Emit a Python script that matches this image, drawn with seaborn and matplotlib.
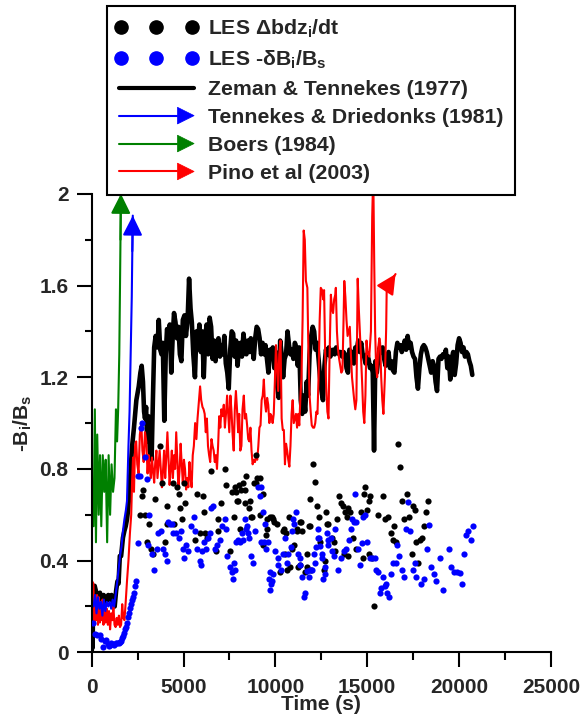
import matplotlib
matplotlib.use("Agg")
import matplotlib.pyplot as plt
import seaborn as sns
from matplotlib.lines import Line2D
from matplotlib.patches import Polygon
from matplotlib.legend_handler import HandlerBase, HandlerLine2D
from matplotlib.ticker import MultipleLocator, FuncFormatter

# ---------------- data ----------------
# Zeman & Tennekes (1977)
zeman_t = [0, 30, 50, 80, 160, 250, 350, 450, 550, 650, 710, 800, 900, 1000, 1080, 1160, 1250,
           1330, 1400, 1460, 1530, 1600, 1700, 1780, 1850, 1920, 1980, 2050, 2120, 2200, 2300,
           2430, 2560, 2650, 2720, 2790, 2850, 2900, 2960, 3020, 3090, 3160, 3260, 3330, 3400,
           3480, 3580, 3650, 3730, 3800, 3870, 3950, 4030, 4100, 4170, 4250, 4330, 4400, 4480,
           4560, 4640, 4720, 4800, 4880, 4960, 5050, 5130, 5220, 5300, 5380, 5450, 5530, 5620,
           5700, 5780, 5860, 5940, 6020, 6100, 6180, 6260, 6340, 6420, 6500, 6580, 6660, 6740,
           6820, 6900, 6980, 7060, 7140, 7220, 7300, 7380, 7460, 7540, 7620, 7700, 7780, 7860,
           7940, 8020, 8100, 8180, 8260, 8340, 8420, 8500, 8580, 8660, 8740, 8820, 8900, 8980,
           9060, 9140, 9220, 9300, 9380, 9460, 9540, 9620, 9700, 9780, 9860, 9940, 10020, 10100,
           10180, 10260, 10340, 10420, 10500, 10580, 10660, 10740, 10820, 10900, 10980, 11060,
           11140, 11220, 11300, 11380, 11460, 11540, 11620, 11700, 11780, 11860, 11950, 12030,
           12110, 12190, 12270, 12350, 12430, 12510, 12590, 12670, 12750, 12830, 12910, 12990,
           13070, 13150, 13230, 13310, 13390, 13470, 13550, 13630, 13710, 13790, 13870, 13950,
           14030, 14110, 14190, 14270, 14350, 14430, 14510, 14590, 14670, 14750, 14830, 14910,
           14990, 15070, 15150, 15230, 15300, 15370, 15440, 15520, 15600, 15680, 15760, 15840,
           15920, 16000, 16080, 16160, 16240, 16320, 16400, 16480, 16560, 16640, 16720, 16800,
           16880, 16960, 17040, 17120, 17200, 17280, 17360, 17440, 17520, 17600, 17680, 17760,
           17840, 17920, 18000, 18080, 18160, 18240, 18320, 18400, 18480, 18560, 18640, 18720,
           18800, 18880, 18960, 19040, 19120, 19200, 19280, 19360, 19440, 19520, 19600, 19680,
           19760, 19840, 19920, 20000, 20080, 20160, 20240, 20320, 20400, 20480, 20560, 20640,
           20720]
zeman_r = [0.00, 0.15, 0.02, 0.28, 0.29, 0.26, 0.24, 0.26, 0.22, 0.25, 0.24, 0.22, 0.25, 0.23, 0.25,
           0.22, 0.20, 0.27, 0.31, 0.30, 0.42, 0.42, 0.50, 0.53, 0.55, 0.58, 0.62, 0.70, 0.80, 0.90,
           0.98, 1.10, 1.16, 1.22, 1.25, 1.18, 1.05, 1.02, 1.07, 0.92, 1.03, 0.88, 0.84, 1.10, 1.33,
           1.38, 1.33, 1.45, 1.32, 1.30, 1.35, 1.01, 1.30, 1.41, 1.39, 1.43, 1.22, 1.36, 1.48,
           1.44, 1.37, 1.42, 1.30, 1.27, 1.45, 1.47, 1.38, 1.45, 1.63, 1.50, 1.44, 1.30, 1.20,
           1.40, 1.33, 1.43, 1.31, 1.40, 1.20, 1.38, 1.43, 1.30, 1.46, 1.42, 1.28, 1.36, 1.27,
           1.35, 1.37, 1.29, 1.34, 1.30, 1.38, 1.26, 1.22, 1.15, 1.32, 1.40, 1.39, 1.29, 1.36,
           1.25, 1.33, 1.35, 1.29, 1.39, 1.33, 1.30, 1.36, 1.31, 1.37, 1.33, 1.28, 1.37, 1.42,
           1.41, 1.37, 1.30, 1.35, 1.30, 1.34, 1.28, 1.22, 1.32, 1.30, 1.33, 1.24, 1.31, 1.16,
           1.11, 1.36, 1.30, 1.20, 1.28, 1.30, 1.40, 1.34, 1.30, 1.32, 1.28, 1.35,
           1.33, 1.25, 1.33, 1.10, 1.04, 1.12, 1.05, 1.18, 1.12, 1.30, 1.38, 1.42,
           1.40, 1.32, 1.35, 1.28, 1.20, 1.14, 1.10, 1.25, 1.32, 1.30, 1.33, 1.29,
           1.31, 1.32, 1.30, 1.33, 1.31, 1.30, 1.31, 1.29, 1.31, 1.30, 1.24, 1.22,
           1.32, 1.30, 1.31, 1.26, 1.33, 1.32, 1.36, 1.31, 1.35, 1.30, 1.29, 1.26,
           1.30, 1.28, 1.24, 1.25, 1.22, 0.88, 1.27, 1.22, 1.28, 1.33, 1.31, 1.33,
           1.28, 1.25, 1.29, 1.31, 1.24, 1.27, 1.23, 1.22, 1.31, 1.35, 1.33, 1.34,
           1.31, 1.33, 1.36, 1.32, 1.38, 1.33, 1.35, 1.31, 1.29, 1.28, 1.20, 1.15,
           1.24, 1.30, 1.33, 1.34, 1.33, 1.31, 1.28, 1.25, 1.22, 1.27, 1.25, 1.18,
           1.14, 1.28, 1.29, 1.28, 1.30, 1.29, 1.32, 1.24, 1.29, 1.19, 1.28, 1.31,
           1.21, 1.26, 1.34, 1.37, 1.35, 1.31, 1.33, 1.29, 1.31, 1.30, 1.27, 1.25,
           1.21]

# Tennekes & Driedonks (1981)
td_t = [100, 180, 260, 340, 420, 500, 580, 660, 740, 820, 900, 980, 1060, 1140, 1220, 1300,
        1380, 1460, 1540, 1620, 1700, 1780, 1860, 1920, 1960, 2000, 2060, 2120, 2180, 2210, 2236]
td_r = [0.20, 0.25, 0.17, 0.24, 0.19, 0.22, 0.16, 0.23, 0.18, 0.22, 0.20, 0.22, 0.19, 0.23, 0.20, 0.25,
        0.30, 0.36, 0.42, 0.46, 0.53, 0.58, 0.62, 0.66, 0.78, 0.90, 1.05, 1.30, 1.55, 1.75, 1.905]

# Boers (1984)
boers_t = [100, 170, 230, 300, 380, 450, 520, 600, 680, 760, 840, 920, 1000, 1080, 1160, 1240,
           1320, 1380, 1440, 1500, 1540, 1565, 1590]
boers_r = [0.55, 1.06, 0.48, 0.95, 0.60, 0.86, 0.55, 0.86, 0.70, 0.84, 0.48, 0.86, 0.60, 0.82, 0.70, 0.76,
           1.06, 0.92, 1.06, 1.30, 1.60, 1.80, 2.00]

# Pino et al (2003)
pino_t = [20, 90, 140, 190, 240, 290, 340, 390, 440, 490, 540, 590, 640, 700, 760, 820, 880, 940,
          1000, 1060, 1120, 1180, 1240, 1300, 1360, 1420, 1480, 1540, 1600, 1660, 1720, 1780, 1850,
          1920, 2000, 2080, 2150, 2200, 2250, 2300, 2360, 2420, 2480, 2550, 2620, 2700, 2760, 2830,
          2900, 2970, 3040, 3100, 3160, 3220, 3280, 3340, 3400, 3460, 3520, 3580, 3640, 3700, 3760,
          3820, 3880, 3940, 4000, 4060, 4120, 4180, 4240, 4300, 4360, 4420, 4480, 4540, 4600, 4660,
          4720, 4780, 4840, 4900, 4960, 5020, 5080, 5140, 5200, 5260, 5320, 5380, 5440, 5500, 5560,
          5630, 5700, 5760, 5820, 5900, 5960, 6030, 6090, 6150, 6210, 6270, 6330, 6390, 6450, 6520,
          6580, 6640, 6700, 6760, 6820, 6880, 6940, 7000, 7060, 7120, 7190, 7250, 7310, 7370, 7430,
          7490, 7550, 7610, 7670, 7730, 7790, 7850, 7910, 7970, 8030, 8090, 8150, 8210, 8280, 8340,
          8400, 8460, 8520, 8580, 8640, 8700, 8760, 8830, 8890, 8950, 9010, 9070, 9130, 9190, 9250,
          9310, 9370, 9430, 9490, 9550, 9610, 9670, 9730, 9790, 9850, 9910, 9970, 10030, 10090,
          10150, 10210, 10280, 10340, 10400, 10460, 10520, 10580, 10640, 10700, 10760, 10820, 10880,
          10940, 11000, 11060, 11120, 11180, 11240, 11300, 11360, 11420, 11480, 11540, 11600, 11660,
          11740, 11800, 11860, 11920, 11980, 12050, 12110, 12170, 12230, 12290, 12350, 12410, 12470,
          12540, 12600, 12650, 12710, 12770, 12830, 12890, 12950, 13020, 13080, 13140, 13200, 13260,
          13290, 13350, 13410, 13470, 13530, 13590, 13650, 13710, 13750, 13810, 13870, 13930, 13990,
          14050, 14110, 14170, 14230, 14290, 14350, 14410, 14480, 14540, 14600, 14660, 14720, 14780,
          14840, 14900, 14960, 15020, 15080, 15110, 15200, 15270, 15300, 15340, 15380, 15430, 15480,
          15540, 15600, 15660, 15700, 15760, 15820, 15880, 15960, 16030, 16060, 16540]
pino_r = [0.31, 0.30, 0.12, 0.22, 0.14, 0.25, 0.12, 0.24, 0.13, 0.22, 0.14, 0.23, 0.12, 0.21, 0.13, 0.19,
          0.12, 0.18, 0.10, 0.17, 0.14, 0.20, 0.12, 0.11, 0.15, 0.12, 0.16, 0.11, 0.12, 0.21, 0.15,
          0.14, 0.22, 0.31, 0.40, 0.52, 0.60, 0.75, 0.85, 0.70, 0.90, 0.92, 0.82, 0.78, 0.95, 1.00,
          0.88, 0.83, 0.96, 0.92, 0.78, 0.86, 0.80, 0.76, 0.85, 0.79, 0.74, 0.83, 0.88, 0.76, 0.82,
          0.88, 0.80, 0.72, 0.79, 0.88, 0.76, 0.85, 0.96, 0.85, 0.73, 0.80, 0.88, 0.76, 0.86, 0.80,
          0.96, 0.84, 0.72, 0.79, 0.91, 0.82, 0.74, 0.84, 0.80, 0.71, 0.76, 0.72, 0.83, 0.76, 0.72,
          0.86, 0.90, 1.00, 0.93, 1.02, 1.08, 1.16, 1.10, 1.07, 1.06, 1.04, 0.96, 1.02, 0.90, 0.86,
          0.83, 0.93, 0.90, 0.88, 0.83, 0.86, 0.80, 0.90, 1.03, 0.98, 1.06, 1.03, 1.08, 0.98, 1.04,
          1.12, 1.04, 0.96, 1.12, 1.05, 0.95, 0.88, 1.06, 1.14, 1.06, 0.96, 1.04, 0.88, 0.90, 1.06,
          1.12, 1.02, 1.04, 0.99, 0.93, 0.92, 0.98, 0.88, 0.82, 0.84, 0.83, 0.86, 0.84, 0.90, 0.98,
          0.99, 1.10, 1.12, 1.19, 1.09, 1.05, 1.11, 1.08, 1.00, 1.04, 1.03, 1.00, 1.04, 1.18, 1.34,
          1.24, 1.14, 1.30, 1.36, 1.02, 0.97, 0.97, 0.82, 0.91, 0.88, 0.84, 0.81, 0.90, 1.04, 1.10,
          1.00, 1.02, 1.04, 0.98, 1.04, 0.99, 1.11, 1.20, 1.45, 1.84, 1.80, 1.62, 1.59, 1.30, 1.12,
          1.05, 0.99, 0.98, 0.98, 1.00, 1.05, 1.04, 1.20, 1.45, 1.59, 1.58, 1.54, 1.58, 1.30, 1.15,
          1.05, 1.02, 1.30, 1.56, 1.50, 1.48, 1.54, 1.56, 1.59, 1.40, 1.32, 1.28, 1.25, 1.22, 1.23,
          1.45, 1.62, 1.55, 1.45, 1.38, 1.40, 1.42, 1.30, 1.20, 1.15, 1.10, 1.06, 1.10, 1.63, 1.50,
          1.40, 1.29, 1.18, 1.05, 1.00, 1.12, 1.36, 1.30, 1.31, 1.29, 1.40, 1.90, 2.00, 2.00, 1.70,
          1.40, 1.25, 1.20, 1.33, 1.37, 1.35, 1.20, 1.10, 1.04, 1.20, 1.41, 1.59, 1.65]

# LES: buoyancy jump times inversion growth rate
les_flux_t = [2630, 2730, 2800, 2900, 3010, 3120, 3230, 3320, 3420, 3720, 3850, 4010, 4080, 4120,
              4420, 4460, 4640, 4730, 4810, 4900, 5000, 5090, 5620, 5720, 5900, 6050, 6120, 6170,
              6300, 6480, 6740, 6850, 6900, 7030, 7230, 7320, 7540, 7630, 7720, 7810, 7850, 7900,
              7960, 8030, 8050, 8140, 8230, 8320, 8360, 8410, 8540, 8630, 8670, 8740, 8810, 8940,
              8960, 8990, 9140, 9160, 9320, 9350, 9470, 9540, 9560, 9720, 9830, 9870, 9920, 10080,
              10230, 10410, 10470, 10540, 10590, 10630, 10740, 10820, 10900, 10990, 11170, 11190,
              11210, 11340, 11360, 11410, 11460, 11630, 11700, 11730, 11810, 11880, 11900, 11915,
              12030, 12140, 12240, 12360, 12450, 12630, 12690, 12780, 12810, 12870, 13060, 13200,
              13240, 13350, 13480, 13570, 13660, 13750, 13790, 13880, 13930, 13970, 14060, 14250,
              14400, 14660, 14750, 14810, 14890, 14970, 15080, 15110, 15170, 15240, 15390, 15570,
              15880, 15970, 16120, 16270, 16390, 16480, 16570, 16660, 16790, 16880, 17000, 17170,
              17300, 17420, 17480, 17610, 17670, 17760, 17850, 17970, 18080, 18210, 18300]
les_flux_r = [0.60, 0.68, 0.71, 0.60, 0.48, 0.56, 0.45, 0.43, 0.67, 0.90, 0.74, 0.48, 0.56, 0.64,
              0.74, 0.56, 0.72, 0.69, 0.63, 0.58, 0.74, 0.65, 0.49, 0.69, 0.52, 0.68, 0.61, 0.52,
              0.50, 0.79, 0.44, 0.53, 0.58, 0.65, 0.80, 0.73, 0.44, 0.70, 0.59, 0.72, 0.70, 0.66,
              0.66, 0.73, 0.54, 0.71, 0.74, 0.65, 0.71, 0.77, 0.63, 0.66, 0.59, 0.59, 0.74, 0.86,
              0.74, 0.76, 0.76, 0.60, 0.69, 0.47, 0.51, 0.54, 0.58, 0.59, 0.59, 0.58, 0.57, 0.56,
              0.35, 0.53, 0.54, 0.43, 0.52, 0.36, 0.59, 0.37, 0.45, 0.47, 0.53, 0.54,
              0.37, 0.57, 0.38, 0.57, 0.53, 0.35, 0.37, 0.43, 0.55, 0.55, 0.67, 0.36,
              0.82, 0.745, 0.64, 0.59, 0.48, 0.36, 0.40, 0.61, 0.56, 0.56, 0.50, 0.48,
              0.44, 0.58, 0.68, 0.65, 0.64, 0.43, 0.61, 0.59, 0.42, 0.63, 0.61, 0.50,
              0.45, 0.61, 0.41, 0.69, 0.72, 0.62, 0.66, 0.43, 0.68, 0.41, 0.20, 0.60,
              0.68, 0.58, 0.59, 0.52, 0.49, 0.55, 0.48, 0.91, 0.81, 0.66, 0.58, 0.69,
              0.59, 0.43, 0.64, 0.62, 0.48, 0.39, 0.49, 0.50, 0.55, 0.61, 0.66]

# LES: normalised entrainment flux
les_ratio_t = [71, 196, 300, 436, 523, 616, 700, 796, 860, 927, 1000, 1069, 1140, 1216, 1300, 1396,
               1460, 1527, 1600, 1669, 1720, 1762, 1830, 1887, 1940, 1980, 2030, 2072, 2140, 2214,
               2260, 2307, 2370, 2432, 2508, 2541, 2617, 2680, 2760, 2923, 3000, 3087, 3141, 3272,
               3397, 3544, 3632, 3763, 3905, 3997, 4090, 4177, 4250, 4363, 4450, 4590, 4760, 4870,
               4995, 5040, 5140, 5250, 5415, 5542, 5630, 5720, 5870, 5930, 6020, 6120, 6220, 6330,
               6430, 6520, 6610, 6700, 6830, 6970, 7100, 7240, 7330, 7390, 7510, 7630, 7690, 7720,
               7780, 7850, 7960, 8050, 8190, 8230, 8340, 8410, 8460, 8500, 8560, 8690, 8770, 8900,
               9060, 9170, 9200, 9220, 9320, 9370, 9420, 9500, 9600, 9640, 9690, 9710, 9740, 9820,
               9870, 10000, 10120, 10140, 10320, 10410, 10500, 10630, 10680, 10830, 10900, 10970,
               11030, 11140, 11210, 11320, 11360, 11440, 11580, 11610, 11730, 11810, 11880, 11970,
               12090, 12160, 12200, 12300, 12330, 12380, 12430, 12510, 12550, 12600, 12700, 12720,
               12810, 12840, 12880, 13020, 13090, 13200, 13240, 13420, 13570, 13750, 13830, 14010,
               14100, 14190, 14260, 14310, 14400, 14490, 14590, 14730, 14770, 14860, 15010, 15130,
               15280, 15400, 15460, 15580, 15700, 15760, 15880, 15940, 16030, 16070, 16180, 16300,
               16390, 16540, 16610, 16720, 16900, 16980, 17120, 17210, 17340, 17490, 17580, 17680,
               17950, 18080, 18270, 18360, 18450, 18630, 18720, 18960, 19140, 19450, 19540, 19720,
               19900, 20050, 20170, 20260, 20350, 20480, 20630, 20770]
les_ratio_r = [0.13, 0.08, 0.075, 0.075, 0.06, 0.025, 0.05, 0.054, 0.035, 0.027, 0.03, 0.039, 0.035,
               0.032, 0.04, 0.039, 0.04, 0.046, 0.05, 0.061, 0.07, 0.083, 0.10, 0.112, 0.13, 0.155,
               0.17, 0.192, 0.21, 0.228, 0.24, 0.257, 0.29, 0.312, 0.475, 0.77, 0.77, 0.98, 1.00,
               0.85, 0.755, 0.47, 0.60, 0.43, 0.36, 0.45, 0.52, 0.53, 0.45, 0.43, 0.40, 0.57, 0.56,
               0.56, 0.52, 0.52, 0.50, 0.53, 0.45, 0.41, 0.47, 0.44, 0.55, 0.59, 0.53, 0.45, 0.40,
               0.38, 0.44, 0.48, 0.45, 0.50, 0.52, 0.63, 0.64, 0.45, 0.47, 0.49, 0.55, 0.58, 0.54,
               0.42, 0.37, 0.35, 0.32, 0.39, 0.36, 0.48, 0.49, 0.48, 0.52, 0.49, 0.58, 0.54, 0.55,
               0.52, 0.50, 0.42, 0.39, 0.53, 0.72, 0.68, 0.72, 0.48, 0.61, 0.48, 0.56, 0.45, 0.48,
               0.32, 0.35, 0.27, 0.30, 0.31, 0.34, 0.44, 0.38, 0.41, 0.36, 0.43, 0.50, 0.39, 0.43,
               0.46, 0.53, 0.58, 0.56, 0.61, 0.43, 0.41, 0.38, 0.33, 0.24, 0.26, 0.355, 0.33, 0.36,
               0.36, 0.43, 0.39, 0.46, 0.50, 0.54, 0.50, 0.465, 0.41, 0.43, 0.32, 0.34, 0.37, 0.52,
               0.49, 0.47, 0.50, 0.44, 0.42, 0.54, 0.36, 0.41, 0.44, 0.45, 0.49, 0.54, 0.58, 0.57,
               0.69, 0.57, 0.45, 0.38, 0.475, 0.59, 0.60, 0.48, 0.41, 0.41, 0.41, 0.36, 0.35, 0.26,
               0.28, 0.33, 0.29, 0.30, 0.26, 0.24, 0.34, 0.39, 0.39, 0.47, 0.42, 0.36, 0.33, 0.54,
               0.655, 0.53, 0.36, 0.39, 0.33, 0.30, 0.32, 0.45, 0.555, 0.37, 0.34, 0.31, 0.41, 0.27,
               0.45, 0.37, 0.35, 0.35, 0.345, 0.30, 0.43, 0.51, 0.53, 0.49, 0.55]

series_labels = ["LES \u0394bdz$_i$/dt", "LES -\u03b4B$_i$/B$_s$", "Zeman & Tennekes (1977)",
                 "Tennekes & Driedonks (1981)", "Boers (1984)", "Pino et al (2003)"]
x_ticks = [0, 5000, 10000, 15000, 20000, 25000]
y_ticks = [0, 0.4, 0.8, 1.2, 1.6, 2.0]

BLUE = "#0000ff"
GREEN = "#008000"
RED = "#ff0000"

# ---------------- style ----------------
sns.set_style("ticks")
plt.rcParams["font.family"] = ["Liberation Sans", "DejaVu Sans"]
plt.rcParams["font.weight"] = "bold"
plt.rcParams["mathtext.fontset"] = "custom"
plt.rcParams["mathtext.rm"] = "Liberation Sans:bold"
plt.rcParams["mathtext.it"] = "Liberation Sans:bold"
plt.rcParams["mathtext.bf"] = "Liberation Sans:bold"
plt.rcParams["mathtext.default"] = "rm"

fig = plt.figure(figsize=(5.82, 7.26), dpi=100)
ax = fig.add_axes([0.1576, 0.1015, 0.789, 0.6315])

sns.lineplot(x=zeman_t, y=zeman_r, color="black", lw=3.3, sort=False, estimator=None, ax=ax)
sns.lineplot(x=pino_t, y=pino_r, color=RED, lw=1.5, sort=False, estimator=None, ax=ax)
sns.lineplot(x=td_t, y=td_r, color=BLUE, lw=1.5, sort=False, estimator=None, ax=ax)
sns.lineplot(x=boers_t, y=boers_r, color=GREEN, lw=1.5, sort=False, estimator=None, ax=ax)
sns.scatterplot(x=les_flux_t, y=les_flux_r, color="black", s=20, linewidth=0, ax=ax, zorder=4)
sns.scatterplot(x=les_ratio_t, y=les_ratio_r, color=BLUE, s=20, linewidth=0, ax=ax, zorder=4)

# arrowheads at the end of each parameterisation curve
for tt, rr, col in [(td_t, td_r, BLUE), (boers_t, boers_r, GREEN), (pino_t, pino_r, RED)]:
    ax.annotate("", xy=(tt[-1], rr[-1]), xytext=(tt[-2], rr[-2]),
                arrowprops=dict(arrowstyle="-|>,head_length=12,head_width=6", mutation_scale=1,
                                color=col, lw=1.5, shrinkA=0, shrinkB=0),
                annotation_clip=False, zorder=5)

ax.set_xlim(0, 25000)
ax.set_ylim(0, 2)
ax.set_xticks(x_ticks)
ax.set_yticks(y_ticks)
ax.xaxis.set_minor_locator(MultipleLocator(2500))
ax.yaxis.set_minor_locator(MultipleLocator(0.2))
ax.yaxis.set_major_formatter(FuncFormatter(lambda v, p: f"{v:g}"))
ax.xaxis.set_major_formatter(FuncFormatter(lambda v, p: f"{v:g}"))
sns.despine(ax=ax)
for side in ("left", "bottom"):
    ax.spines[side].set_linewidth(1.5)
    ax.spines[side].set_color("black")
ax.tick_params(which="major", direction="out", length=10.8, width=1.5, color="black",
               labelsize=15, pad=8)
ax.tick_params(which="minor", direction="out", length=5.4, width=1.5, color="black")
ax.tick_params(axis="y", which="major", pad=6)
for lab in ax.get_xticklabels() + ax.get_yticklabels():
    lab.set_fontweight("bold")

ax.set_xlabel("Time (s)", fontsize=15, fontweight="bold")
ax.set_ylabel("-B$_i$/B$_s$", fontsize=15, fontweight="bold")
ax.xaxis.set_label_coords(0.5, -0.093)
ax.yaxis.set_label_coords(-0.125, 0.5)


# ---------------- legend ----------------
class ArrowKey:
    def __init__(self, color):
        self.color = color


class HandlerArrowKey(HandlerBase):
    def create_artists(self, legend, orig_handle, xdescent, ydescent, width, height, fontsize, trans):
        y = height / 2 - ydescent
        x0, x1 = -xdescent, width - xdescent
        head, half = 12.0, 6.0
        line = Line2D([x0, x1 - head], [y, y], color=orig_handle.color, lw=1.5, transform=trans)
        tri = Polygon([[x1 - head, y + half], [x1, y], [x1 - head, y - half]], closed=True,
                      facecolor=orig_handle.color, edgecolor=orig_handle.color, lw=0.5,
                      transform=trans)
        return [line, tri]


dot_black = Line2D([], [], ls="none", marker="o", markersize=9.5, color="black")
dot_blue = Line2D([], [], ls="none", marker="o", markersize=9.5, color=BLUE)
line_black = Line2D([], [], color="black", lw=3.0)
handles = [dot_black, dot_blue, line_black, ArrowKey(BLUE), ArrowKey(GREEN), ArrowKey(RED)]

leg = fig.legend(handles=handles, labels=series_labels, loc="upper left",
                 bbox_to_anchor=(107 / 582, 1 - 6 / 726), bbox_transform=fig.transFigure,
                 frameon=True, fancybox=False, framealpha=1, edgecolor="black",
                 prop={"size": 15.3, "weight": "bold"}, handlelength=3.55, handletextpad=0.65,
                 labelspacing=0.42, borderpad=0.55, borderaxespad=0,
                 handler_map={ArrowKey: HandlerArrowKey(),
                              dot_black: HandlerLine2D(numpoints=3, marker_pad=0.1),
                              dot_blue: HandlerLine2D(numpoints=3, marker_pad=0.1)})
leg.get_frame().set_linewidth(1.5)

fig.savefig("out.png", dpi=100)
